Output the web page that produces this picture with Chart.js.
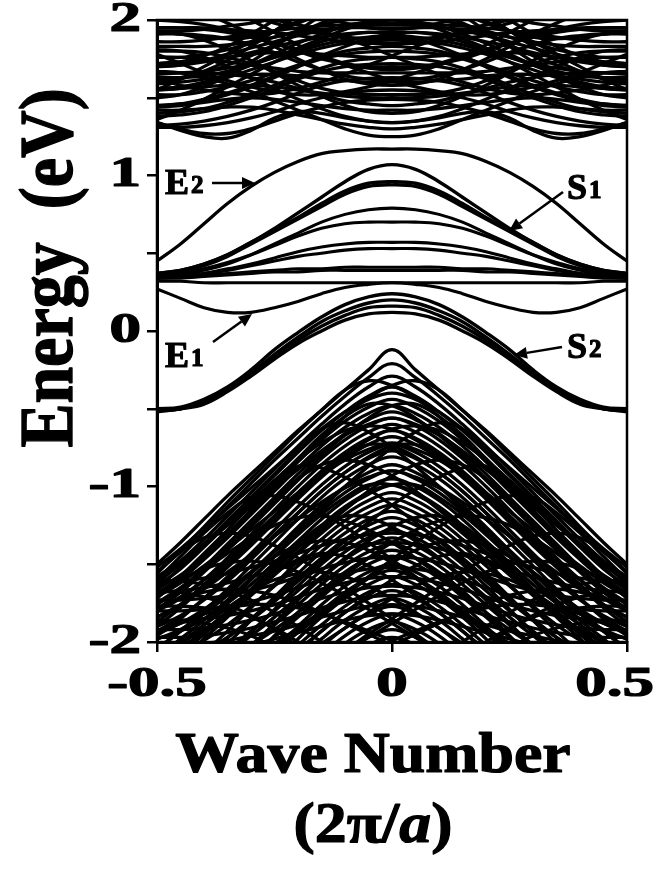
<!DOCTYPE html>
<html lang="en">
<head>
<meta charset="UTF-8">
<title>Band structure</title>
<script src="https://cdn.jsdelivr.net/npm/chart.js"></script>
<style>
  body { margin: 0; background: #fff; }
  canvas { display: block; background: #fff; }
</style>
</head>
<body>
<canvas id="bands" width="655" height="875"></canvas>
<script>
// wave numbers (2pi/a): half zone for symmetric bands, full zone for the off-centre ones
const kHalf = [0, 0.05, 0.1, 0.15, 0.2, 0.25, 0.3, 0.35, 0.4, 0.45, 0.5];
const kFull = [-0.5, -0.45, -0.4, -0.35, -0.3, -0.25, -0.2, -0.15, -0.1, -0.05, 0,
               0.05, 0.1, 0.15, 0.2, 0.25, 0.3, 0.35, 0.4, 0.45, 0.5];

// energies (eV) at kHalf, mirrored to negative k
const upperBands = [
  [1.97, 1.965, 1.95, 1.93, 1.90, 1.86, 1.82, 1.78, 1.74, 1.71, 1.70],
  [1.92, 1.92, 1.91, 1.89, 1.86, 1.83, 1.79, 1.76, 1.73, 1.71, 1.70],
  [1.87, 1.865, 1.85, 1.82, 1.78, 1.73, 1.68, 1.63, 1.59, 1.56, 1.55],
  [1.80, 1.795, 1.78, 1.75, 1.70, 1.64, 1.58, 1.53, 1.49, 1.46, 1.45],
  [1.72, 1.715, 1.70, 1.67, 1.62, 1.56, 1.50, 1.45, 1.41, 1.39, 1.38],
  [1.63, 1.625, 1.61, 1.58, 1.53, 1.47, 1.42, 1.38, 1.35, 1.33, 1.32],
  [1.55, 1.545, 1.53, 1.50, 1.46, 1.41, 1.37, 1.34, 1.32, 1.31, 1.31],
  [1.49, 1.485, 1.47, 1.44, 1.40, 1.35, 1.30, 1.27, 1.27, 1.30, 1.34],
  [1.34, 1.35, 1.37, 1.40, 1.41, 1.37, 1.29, 1.24, 1.25, 1.29, 1.34],
  [1.25, 1.26, 1.30, 1.36, 1.42, 1.48, 1.54, 1.59, 1.63, 1.66, 1.67],
  [1.34, 1.35, 1.38, 1.43, 1.49, 1.56, 1.63, 1.70, 1.76, 1.80, 1.81],
  [1.40, 1.41, 1.45, 1.51, 1.58, 1.66, 1.74, 1.81, 1.87, 1.91, 1.92],
  [1.58, 1.59, 1.62, 1.68, 1.75, 1.83, 1.91, 1.98, 2.04, 2.08, 2.09],
  [1.68, 1.69, 1.72, 1.77, 1.84, 1.92, 2.00, 2.07, 2.12, 2.15, 2.16],
  [1.94, 1.95, 1.98, 2.03, 2.09, 2.15, 2.20, 2.24, 2.27, 2.29, 2.30],
  [2.05, 2.03, 2.00, 1.97, 1.93, 1.89, 1.86, 1.84, 1.83, 1.83, 1.83],
  [1.85, 1.85, 1.86, 1.88, 1.90, 1.92, 1.93, 1.94, 1.95, 1.95, 1.95],
  [1.60, 1.60, 1.61, 1.62, 1.64, 1.65, 1.65, 1.64, 1.62, 1.60, 1.59],
  [1.50, 1.50, 1.51, 1.53, 1.55, 1.57, 1.58, 1.58, 1.57, 1.56, 1.55],
  [2.15, 2.13, 2.09, 2.04, 1.98, 1.93, 1.89, 1.88, 1.89, 1.91, 1.92],
  [1.76, 1.76, 1.77, 1.78, 1.79, 1.79, 1.78, 1.76, 1.74, 1.73, 1.72],
  [2.30, 2.28, 2.22, 2.13, 2.03, 1.93, 1.83, 1.74, 1.67, 1.62, 1.60],
  [2.20, 2.18, 2.12, 2.03, 1.93, 1.83, 1.73, 1.64, 1.57, 1.52, 1.50],
  [2.40, 2.37, 2.30, 2.20, 2.10, 2.00, 1.91, 1.83, 1.77, 1.73, 1.72],
  [1.45, 1.46, 1.48, 1.52, 1.56, 1.60, 1.63, 1.65, 1.66, 1.66, 1.66],
  [1.52, 1.52, 1.53, 1.56, 1.61, 1.67, 1.72, 1.76, 1.79, 1.80, 1.80],
  [1.62, 1.62, 1.64, 1.68, 1.73, 1.79, 1.84, 1.88, 1.90, 1.91, 1.91],
  [1.70, 1.70, 1.72, 1.75, 1.80, 1.85, 1.90, 1.94, 1.97, 1.99, 2.00],
  [1.90, 1.89, 1.87, 1.84, 1.80, 1.76, 1.72, 1.69, 1.67, 1.66, 1.65],
  [1.83, 1.82, 1.80, 1.76, 1.71, 1.66, 1.61, 1.57, 1.54, 1.52, 1.52],
  [2.10, 2.08, 2.04, 1.98, 1.91, 1.84, 1.77, 1.71, 1.66, 1.63, 1.62],
  [2.00, 1.99, 1.96, 1.91, 1.85, 1.78, 1.71, 1.65, 1.60, 1.57, 1.56],
  [1.76, 1.75, 1.73, 1.69, 1.64, 1.58, 1.52, 1.47, 1.43, 1.41, 1.40],
  [1.98, 1.98, 1.97, 1.96, 1.95, 1.93, 1.91, 1.89, 1.87, 1.86, 1.86],
  [1.95, 1.95, 1.95, 1.94, 1.92, 1.89, 1.85, 1.81, 1.78, 1.76, 1.76],
  [1.66, 1.66, 1.66, 1.66, 1.67, 1.69, 1.71, 1.73, 1.75, 1.76, 1.76],
  [1.42, 1.42, 1.43, 1.45, 1.47, 1.49, 1.50, 1.49, 1.47, 1.45, 1.44],
  [1.30, 1.31, 1.33, 1.36, 1.39, 1.42, 1.44, 1.44, 1.43, 1.42, 1.42],
  [1.88, 1.88, 1.89, 1.91, 1.94, 1.98, 2.02, 2.05, 2.07, 2.08, 2.08],
  [2.02, 2.02, 2.03, 2.04, 2.03, 2.01, 1.98, 1.96, 1.94, 1.93, 1.93]
];
// off-centre conduction bands at kFull, each drawn with its mirror
const upperSkewBands = [
  [1.36, 1.42, 1.49, 1.57, 1.65, 1.73, 1.80, 1.86, 1.90, 1.92, 1.91, 1.88, 1.83, 1.77, 1.70, 1.63, 1.57, 1.52, 1.48, 1.46, 1.45],
  [1.55, 1.62, 1.70, 1.78, 1.86, 1.93, 1.99, 2.03, 2.05, 2.05, 2.03, 1.99, 1.94, 1.88, 1.82, 1.76, 1.71, 1.67, 1.64, 1.63, 1.63],
  [1.62, 1.58, 1.55, 1.53, 1.52, 1.53, 1.56, 1.60, 1.65, 1.71, 1.77, 1.83, 1.88, 1.93, 1.97, 2.00, 2.02, 2.03, 2.03, 2.02, 2.01],
  [1.78, 1.72, 1.66, 1.61, 1.57, 1.54, 1.52, 1.52, 1.54, 1.57, 1.61, 1.66, 1.71, 1.76, 1.81, 1.85, 1.89, 1.92, 1.94, 1.95, 1.95]
];

const e2Band = [1.17, 1.17, 1.16, 1.14, 1.09, 1.02, 0.93, 0.82, 0.69, 0.56, 0.45];
const e1Band = [0.31, 0.30, 0.28, 0.24, 0.19, 0.15, 0.12, 0.12, 0.15, 0.21, 0.27];
const s1Bands = [
  [1.07, 1.04, 0.96, 0.86, 0.76, 0.66, 0.57, 0.49, 0.43, 0.39, 0.37],
  [0.96, 0.95, 0.90, 0.82, 0.73, 0.65, 0.57, 0.49, 0.43, 0.39, 0.37],
  [0.94, 0.93, 0.88, 0.80, 0.72, 0.64, 0.56, 0.48, 0.42, 0.38, 0.36]
];
const midBands = [
  [0.79, 0.78, 0.75, 0.70, 0.63, 0.56, 0.49, 0.43, 0.39, 0.36, 0.35],
  [0.70, 0.70, 0.69, 0.66, 0.61, 0.55, 0.49, 0.44, 0.40, 0.37, 0.36],
  [0.57, 0.57, 0.56, 0.54, 0.51, 0.47, 0.43, 0.40, 0.37, 0.35, 0.34],
  [0.53, 0.53, 0.52, 0.50, 0.48, 0.45, 0.42, 0.39, 0.37, 0.35, 0.34],
  [0.41, 0.41, 0.41, 0.40, 0.40, 0.39, 0.38, 0.37, 0.36, 0.35, 0.35],
  [0.39, 0.39, 0.39, 0.39, 0.38, 0.38, 0.37, 0.36, 0.35, 0.34, 0.34],
  [0.31, 0.31, 0.31, 0.31, 0.31, 0.31, 0.31, 0.31, 0.31, 0.32, 0.32]
];
const s2Bands = [
  [0.24, 0.22, 0.17, 0.09, -0.01, -0.12, -0.25, -0.36, -0.44, -0.49, -0.50],
  [0.20, 0.18, 0.13, 0.06, -0.04, -0.15, -0.27, -0.37, -0.45, -0.50, -0.51],
  [0.16, 0.15, 0.10, 0.03, -0.06, -0.17, -0.28, -0.38, -0.46, -0.50, -0.51],
  [0.12, 0.11, 0.07, 0.00, -0.08, -0.18, -0.29, -0.39, -0.47, -0.50, -0.52]
];
const valenceBands = [
  [-0.12, -0.25, -0.38, -0.51, -0.64, -0.78, -0.92, -1.06, -1.21, -1.36, -1.50],
  [-0.21, -0.30, -0.42, -0.55, -0.69, -0.83, -0.98, -1.13, -1.28, -1.42, -1.55],
  [-0.29, -0.36, -0.47, -0.60, -0.74, -0.89, -1.04, -1.19, -1.34, -1.48, -1.60],
  [-0.36, -0.42, -0.52, -0.64, -0.78, -0.93, -1.08, -1.24, -1.39, -1.53, -1.64],
  [-0.44, -0.49, -0.58, -0.70, -0.84, -0.99, -1.15, -1.31, -1.46, -1.60, -1.70],
  [-0.52, -0.57, -0.66, -0.78, -0.92, -1.07, -1.22, -1.37, -1.52, -1.66, -1.76],
  [-0.60, -0.65, -0.74, -0.86, -1.00, -1.15, -1.31, -1.46, -1.60, -1.72, -1.80],
  [-0.68, -0.73, -0.82, -0.94, -1.08, -1.23, -1.38, -1.52, -1.65, -1.76, -1.84],
  [-0.77, -0.82, -0.91, -1.03, -1.17, -1.32, -1.47, -1.61, -1.73, -1.83, -1.90],
  [-0.86, -0.91, -1.00, -1.12, -1.26, -1.41, -1.55, -1.68, -1.79, -1.88, -1.94],
  [-0.95, -1.00, -1.09, -1.21, -1.35, -1.49, -1.63, -1.75, -1.85, -1.93, -1.98],
  [-1.04, -1.09, -1.18, -1.30, -1.43, -1.57, -1.70, -1.82, -1.92, -2.00, -2.05],
  [-1.12, -1.17, -1.26, -1.38, -1.51, -1.64, -1.77, -1.89, -1.99, -2.07, -2.12],
  [-1.20, -1.25, -1.34, -1.46, -1.59, -1.72, -1.85, -1.97, -2.07, -2.15, -2.20],
  [-1.28, -1.33, -1.42, -1.54, -1.67, -1.80, -1.93, -2.05, -2.15, -2.23, -2.28],
  [-1.37, -1.42, -1.51, -1.63, -1.76, -1.89, -2.02, -2.14, -2.24, -2.32, -2.37],
  [-1.45, -1.50, -1.59, -1.71, -1.84, -1.97, -2.10, -2.22, -2.32, -2.40, -2.45],
  [-1.54, -1.59, -1.68, -1.80, -1.93, -2.06, -2.19, -2.31, -2.41, -2.49, -2.54],
  [-1.63, -1.68, -1.77, -1.89, -2.02, -2.15, -2.28, -2.40, -2.50, -2.58, -2.63],
  [-1.72, -1.77, -1.86, -1.98, -2.11, -2.24, -2.37, -2.49, -2.59, -2.67, -2.72],
  [-1.82, -1.87, -1.96, -2.08, -2.21, -2.34, -2.46, -2.57, -2.66, -2.73, -2.78],
  [-1.92, -1.97, -2.06, -2.18, -2.31, -2.44, -2.56, -2.67, -2.76, -2.83, -2.88],
  [-0.40, -0.44, -0.52, -0.63, -0.75, -0.88, -1.01, -1.14, -1.27, -1.40, -1.52],
  [-0.56, -0.60, -0.67, -0.77, -0.89, -1.01, -1.13, -1.25, -1.37, -1.48, -1.58],
  [-0.72, -0.76, -0.83, -0.93, -1.04, -1.16, -1.28, -1.40, -1.51, -1.62, -1.71],
  [-0.90, -0.94, -1.01, -1.10, -1.21, -1.32, -1.44, -1.55, -1.66, -1.76, -1.84],
  [-0.48, -0.53, -0.62, -0.74, -0.88, -1.03, -1.18, -1.33, -1.47, -1.60, -1.71],
  [-0.56, -0.61, -0.70, -0.82, -0.96, -1.11, -1.26, -1.41, -1.55, -1.68, -1.79],
  [-0.64, -0.69, -0.78, -0.90, -1.04, -1.19, -1.34, -1.49, -1.63, -1.76, -1.87],
  [-0.73, -0.78, -0.87, -0.99, -1.13, -1.28, -1.43, -1.58, -1.72, -1.85, -1.96],
  [-0.81, -0.86, -0.95, -1.07, -1.21, -1.36, -1.51, -1.66, -1.80, -1.93, -2.04],
  [-0.90, -0.95, -1.04, -1.16, -1.30, -1.45, -1.60, -1.75, -1.89, -2.02, -2.13],
  [-0.99, -1.04, -1.13, -1.25, -1.39, -1.54, -1.69, -1.84, -1.98, -2.11, -2.22],
  [-1.08, -1.13, -1.22, -1.34, -1.48, -1.63, -1.78, -1.93, -2.07, -2.20, -2.31],
  [-1.16, -1.21, -1.30, -1.42, -1.56, -1.71, -1.86, -2.01, -2.15, -2.28, -2.39],
  [-1.24, -1.29, -1.38, -1.50, -1.64, -1.79, -1.94, -2.09, -2.23, -2.36, -2.47],
  [-1.33, -1.38, -1.47, -1.59, -1.73, -1.88, -2.03, -2.18, -2.32, -2.45, -2.56],
  [-1.41, -1.46, -1.55, -1.67, -1.81, -1.96, -2.11, -2.26, -2.40, -2.53, -2.64],
  [-1.50, -1.55, -1.64, -1.76, -1.90, -2.05, -2.20, -2.35, -2.49, -2.62, -2.73],
  [-1.58, -1.63, -1.72, -1.84, -1.98, -2.13, -2.28, -2.43, -2.57, -2.70, -2.81],
  [-1.67, -1.72, -1.81, -1.93, -2.07, -2.22, -2.37, -2.52, -2.66, -2.79, -2.90],
  [-1.77, -1.82, -1.91, -2.03, -2.17, -2.32, -2.47, -2.62, -2.76, -2.89, -3.00],
  [-1.87, -1.92, -2.01, -2.13, -2.27, -2.42, -2.57, -2.72, -2.86, -2.99, -3.10],
  [-1.97, -2.02, -2.11, -2.23, -2.37, -2.52, -2.67, -2.82, -2.96, -3.09, -3.20]
];
const edgeBands = [
  [-1.30, -1.31, -1.34, -1.38, -1.43, -1.48, -1.52, -1.56, -1.59, -1.61, -1.62],
  [-1.45, -1.46, -1.49, -1.53, -1.58, -1.63, -1.67, -1.70, -1.72, -1.73, -1.73],
  [-1.58, -1.59, -1.62, -1.66, -1.71, -1.76, -1.80, -1.83, -1.85, -1.86, -1.86],
  [-1.70, -1.71, -1.74, -1.78, -1.83, -1.87, -1.91, -1.94, -1.96, -1.97, -1.97],
  [-1.82, -1.83, -1.86, -1.90, -1.94, -1.98, -2.02, -2.04, -2.06, -2.07, -2.07],
  [-2.40, -2.36, -2.27, -2.15, -2.03, -1.92, -1.83, -1.76, -1.71, -1.68, -1.67],
  [-1.36, -1.37, -1.40, -1.44, -1.49, -1.54, -1.58, -1.62, -1.65, -1.67, -1.68],
  [-1.52, -1.53, -1.56, -1.60, -1.65, -1.70, -1.74, -1.77, -1.79, -1.80, -1.80],
  [-1.64, -1.65, -1.68, -1.72, -1.77, -1.82, -1.86, -1.89, -1.91, -1.92, -1.92],
  [-1.76, -1.77, -1.80, -1.84, -1.89, -1.93, -1.96, -1.99, -2.01, -2.02, -2.02],
  [-2.20, -2.17, -2.10, -2.00, -1.90, -1.81, -1.73, -1.67, -1.63, -1.61, -1.60],
  [-2.30, -2.27, -2.20, -2.10, -2.00, -1.91, -1.84, -1.80, -1.78, -1.77, -1.77],
  [-2.45, -2.42, -2.35, -2.25, -2.14, -2.04, -1.96, -1.91, -1.88, -1.87, -1.87]
];
// off-centre valence bands at kFull, each drawn with its mirror
const skewBands = [
  [-1.56, -1.41, -1.26, -1.10, -0.95, -0.80, -0.65, -0.51, -0.38, -0.32, -0.35, -0.43, -0.55, -0.69, -0.84, -1.00, -1.16, -1.31, -1.45, -1.57, -1.66],
  [-1.72, -1.58, -1.43, -1.28, -1.12, -0.97, -0.82, -0.67, -0.55, -0.47, -0.48, -0.56, -0.67, -0.80, -0.95, -1.10, -1.25, -1.40, -1.54, -1.66, -1.75],
  [-1.66, -1.52, -1.37, -1.22, -1.07, -0.92, -0.77, -0.63, -0.59, -0.65, -0.75, -0.87, -1.00, -1.14, -1.28, -1.42, -1.56, -1.70, -1.82, -1.92, -1.98],
  [-1.90, -1.78, -1.64, -1.50, -1.36, -1.21, -1.06, -0.92, -0.80, -0.73, -0.74, -0.81, -0.91, -1.03, -1.17, -1.31, -1.45, -1.59, -1.72, -1.84, -1.93],
  [-1.70, -1.58, -1.45, -1.31, -1.16, -1.01, -0.87, -0.88, -0.94, -1.02, -1.12, -1.23, -1.35, -1.48, -1.61, -1.74, -1.86, -1.97, -2.06, -2.13, -2.18],
  [-2.10, -1.98, -1.86, -1.73, -1.59, -1.45, -1.31, -1.18, -1.07, -0.99, -0.99, -1.05, -1.14, -1.26, -1.39, -1.53, -1.67, -1.80, -1.93, -2.04, -2.12],
  [-1.60, -1.45, -1.30, -1.17, -1.07, -1.06, -1.10, -1.17, -1.26, -1.36, -1.47, -1.58, -1.69, -1.80, -1.91, -2.01, -2.10, -2.18, -2.25, -2.30, -2.33],
  [-2.20, -2.08, -1.95, -1.81, -1.66, -1.51, -1.37, -1.25, -1.19, -1.20, -1.26, -1.35, -1.46, -1.58, -1.71, -1.84, -1.96, -2.07, -2.17, -2.25, -2.31],
  [-1.55, -1.42, -1.33, -1.30, -1.32, -1.38, -1.46, -1.55, -1.65, -1.75, -1.85, -1.95, -2.05, -2.14, -2.22, -2.29, -2.35, -2.40, -2.44, -2.47, -2.49],
  [-2.25, -2.12, -1.98, -1.83, -1.69, -1.56, -1.47, -1.43, -1.45, -1.51, -1.60, -1.70, -1.81, -1.93, -2.05, -2.16, -2.26, -2.35, -2.43, -2.49, -2.53],
  [-1.62, -1.50, -1.37, -1.24, -1.10, -0.96, -0.83, -0.72, -0.64, -0.61, -0.63, -0.70, -0.80, -0.92, -1.05, -1.19, -1.33, -1.47, -1.60, -1.71, -1.79],
  [-1.80, -1.67, -1.53, -1.38, -1.23, -1.08, -0.95, -0.86, -0.83, -0.86, -0.93, -1.03, -1.15, -1.28, -1.42, -1.56, -1.70, -1.83, -1.94, -2.03, -2.09],
  [-1.75, -1.65, -1.54, -1.43, -1.33, -1.25, -1.20, -1.19, -1.22, -1.28, -1.36, -1.46, -1.57, -1.69, -1.81, -1.92, -2.02, -2.11, -2.18, -2.23, -2.26],
  [-2.05, -1.93, -1.80, -1.67, -1.55, -1.45, -1.38, -1.35, -1.36, -1.41, -1.49, -1.59, -1.70, -1.82, -1.94, -2.05, -2.15, -2.24, -2.31, -2.36, -2.39],
  [-1.68, -1.60, -1.53, -1.49, -1.48, -1.50, -1.55, -1.62, -1.70, -1.79, -1.88, -1.97, -2.06, -2.14, -2.21, -2.27, -2.32, -2.36, -2.39, -2.41, -2.42],
  [-2.10, -2.00, -1.89, -1.78, -1.68, -1.60, -1.56, -1.55, -1.58, -1.64, -1.72, -1.81, -1.91, -2.01, -2.11, -2.20, -2.28, -2.35, -2.40, -2.44, -2.46],
  [-1.78, -1.72, -1.68, -1.66, -1.67, -1.70, -1.75, -1.81, -1.88, -1.95, -2.02, -2.09, -2.16, -2.22, -2.27, -2.31, -2.34, -2.36, -2.37, -2.38, -2.38],
  [-1.95, -1.88, -1.82, -1.78, -1.76, -1.76, -1.78, -1.82, -1.87, -1.93, -1.99, -2.05, -2.11, -2.16, -2.20, -2.23, -2.25, -2.26, -2.27, -2.27, -2.27]
];

const xTickValues = [-0.5, 0, 0.5];
const xTickLabels = ['-0.5', '0', '0.5'];
const yTickValues = [2, 1, 0, -1, -2];
const yTickLabels = ['2', '1', '0', '-1', '-2'];

const SERIF = '"Liberation Serif", "Times New Roman", Times, serif';

// build datasets
function symPoints(vals) {
  const pts = [];
  for (let i = kHalf.length - 1; i > 0; i--) pts.push({ x: -kHalf[i], y: vals[i] });
  for (let i = 0; i < kHalf.length; i++) pts.push({ x: kHalf[i], y: vals[i] });
  return pts;
}
function skewPoints(vals, mirror) {
  const n = kFull.length;
  return kFull.map((k, i) => mirror ? { x: -kFull[n - 1 - i], y: vals[n - 1 - i] } : { x: k, y: vals[i] });
}
function line(data, width) {
  return { data: data, borderColor: '#000', borderWidth: width || 3.3, pointRadius: 0, fill: false, tension: 0.4 };
}

const datasets = [];
upperBands.forEach(b => datasets.push(line(symPoints(b))));
upperSkewBands.forEach(b => {
  datasets.push(line(skewPoints(b, false)));
  datasets.push(line(skewPoints(b, true)));
});
datasets.push(line(symPoints(e2Band), 3.3));
datasets.push(line(symPoints(e1Band), 3.1));
s1Bands.forEach(b => datasets.push(line(symPoints(b), 3.4)));
midBands.forEach(b => datasets.push(line(symPoints(b), 3.1)));
s2Bands.forEach(b => datasets.push(line(symPoints(b), 3.4)));
valenceBands.forEach(b => datasets.push(line(symPoints(b))));
edgeBands.forEach(b => datasets.push(line(symPoints(b))));
skewBands.forEach(b => {
  datasets.push(line(skewPoints(b, false)));
  datasets.push(line(skewPoints(b, true)));
});

// text drawn with a thin outline to get the heavy bold look of the original
function stretchText(ctx, text, x, y, align, base, sx, sy) {
  ctx.save();
  ctx.translate(x, y);
  ctx.scale(sx, sy || 1);
  ctx.textAlign = align;
  ctx.textBaseline = base;
  ctx.lineWidth = 1.2;
  ctx.lineJoin = 'round';
  ctx.fillText(text, 0, 0);
  ctx.strokeText(text, 0, 0);
  ctx.restore();
}

function arrow(ctx, x1, y1, x2, y2) {
  const a = Math.atan2(y2 - y1, x2 - x1);
  const hl = 13, hw = 6;
  ctx.beginPath();
  ctx.moveTo(x1, y1);
  ctx.lineTo(x2 - hl * Math.cos(a), y2 - hl * Math.sin(a));
  ctx.stroke();
  ctx.beginPath();
  ctx.moveTo(x2, y2);
  ctx.lineTo(x2 - hl * Math.cos(a) + hw * Math.sin(a), y2 - hl * Math.sin(a) - hw * Math.cos(a));
  ctx.lineTo(x2 - hl * Math.cos(a) - hw * Math.sin(a), y2 - hl * Math.sin(a) + hw * Math.cos(a));
  ctx.closePath();
  ctx.fill();
}

function label(ctx, main, sub, x, y) {
  ctx.font = 'bold 36px ' + SERIF;
  const w = ctx.measureText(main).width;
  stretchText(ctx, main, x, y, 'left', 'alphabetic', 1);
  ctx.font = 'bold 25px ' + SERIF;
  stretchText(ctx, sub, x + w + 2, y - 1, 'left', 'alphabetic', 1);
}

const decor = {
  id: 'decor',
  afterDraw(chart) {
    const { ctx, chartArea: a, scales } = chart;
    ctx.save();
    ctx.strokeStyle = '#000';
    ctx.fillStyle = '#000';
    ctx.lineWidth = 2.5;
    ctx.strokeRect(a.left, a.top, a.right - a.left, a.bottom - a.top);

    // tick labels
    ctx.font = 'bold 42px ' + SERIF;
    yTickValues.forEach((v, i) => {
      stretchText(ctx, yTickLabels[i], 141, scales.y.getPixelForValue(v), 'right', 'middle', 1.5);
    });
    xTickValues.forEach((v, i) => {
      const w = ctx.measureText(xTickLabels[i]).width * 1.5;
      let cx = scales.x.getPixelForValue(v);
      if (cx + w / 2 > chart.width - 1) cx = chart.width - 1 - w / 2;
      stretchText(ctx, xTickLabels[i], cx, 696, 'center', 'alphabetic', 1.5);
    });

    // axis titles
    ctx.save();
    ctx.translate(72, 268);
    ctx.rotate(-Math.PI / 2);
    ctx.font = 'bold 66px ' + SERIF;
    stretchText(ctx, 'Energy  (eV)', 0, 0, 'center', 'alphabetic', 1, 1.15);
    ctx.restore();

    ctx.font = 'bold 56px ' + SERIF;
    stretchText(ctx, 'Wave Number', 373, 772, 'center', 'alphabetic', 1.14);

    const parts = [['(2π/', 'bold 56px ' + SERIF], ['a', 'italic bold 56px ' + SERIF], [')', 'bold 56px ' + SERIF]];
    let total = 0;
    parts.forEach(p => { ctx.font = p[1]; total += ctx.measureText(p[0]).width * 1.14; });
    let px = 373 - total / 2;
    parts.forEach(p => {
      ctx.font = p[1];
      const w = ctx.measureText(p[0]).width * 1.14;
      stretchText(ctx, p[0], px, 842, 'left', 'alphabetic', 1.14);
      px += w;
    });

    // band labels
    label(ctx, 'E', '2', 165, 194);
    label(ctx, 'S', '1', 567, 199);
    label(ctx, 'E', '1', 165, 367);
    label(ctx, 'S', '2', 567, 358);
    ctx.lineWidth = 2.5;
    arrow(ctx, 212, 183, 255, 183);
    arrow(ctx, 563, 192, 509, 231);
    arrow(ctx, 213, 342, 252, 314);
    arrow(ctx, 562, 347, 514, 355);
    ctx.restore();
  }
};

new Chart(document.getElementById('bands'), {
  type: 'line',
  data: { datasets: datasets },
  options: {
    responsive: false,
    animation: false,
    events: [],
    layout: { padding: { left: 145, right: 28, top: 20, bottom: 221 } },
    plugins: { legend: { display: false }, tooltip: { enabled: false } },
    scales: {
      x: {
        type: 'linear', min: -0.5, max: 0.5,
        ticks: { stepSize: 0.5, display: false },
        grid: { drawOnChartArea: false, drawTicks: true, tickLength: 10, color: '#000', lineWidth: 2.5 },
        border: { display: true, color: '#000', width: 3 },
        afterFit: s => { s.height = 12; }
      },
      y: {
        type: 'linear', min: -2, max: 2,
        ticks: { stepSize: 0.5, display: false },
        grid: { drawOnChartArea: false, drawTicks: true, tickLength: 10, color: '#000', lineWidth: 2.5 },
        border: { display: true, color: '#000', width: 3 },
        afterFit: s => { s.width = 12; }
      }
    }
  },
  plugins: [decor]
});
</script>
</body>
</html>
